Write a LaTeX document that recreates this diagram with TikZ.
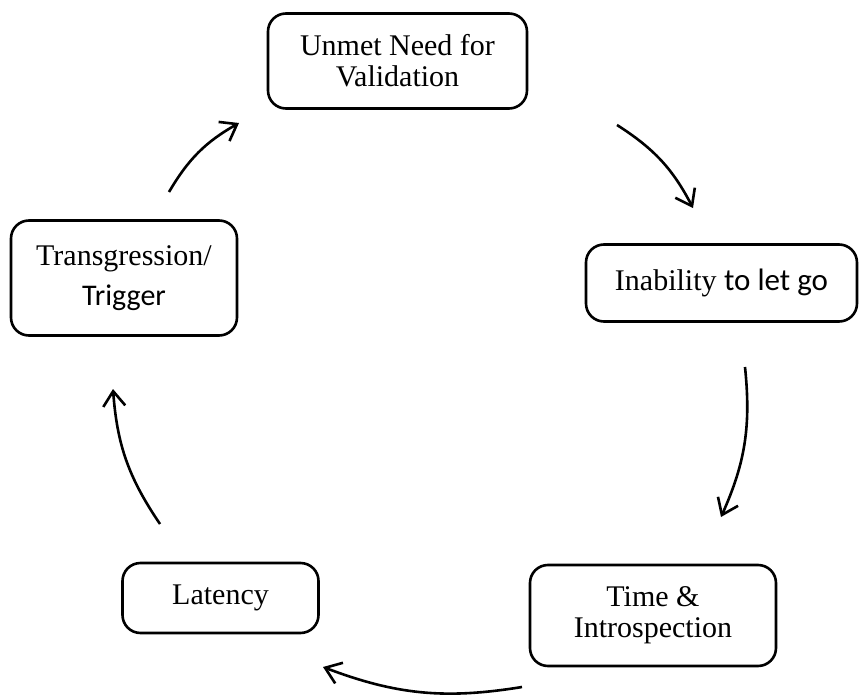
\documentclass[tikz,border=0pt]{standalone}
\usepackage{fontspec}
\setmainfont{Liberation Serif}
\newfontfamily\sansfont{Carlito}
\usetikzlibrary{arrows.meta}
\begin{document}
\begin{tikzpicture}[x=1pt,y=-1pt,
  stagebox/.style={draw, line width=2.6pt, rounded corners=18pt, align=center,
    font=\fontsize{30}{31}\selectfont, inner sep=0pt},
  cyclearrow/.style={line width=2.6pt, -{Straight Barb[length=15pt,width=22pt]}, bend left=15}]
\useasboundingbox (0,0) rectangle (860,696);

% the five stages of the cycle
\node[stagebox, minimum width=259pt, minimum height=95pt] (unmet) at (397.5,61)
  {Unmet Need for\\Validation};
\node[stagebox, minimum width=271pt, minimum height=77pt] (inability) at (721.5,283)
  {Inability {\sansfont\fontsize{31}{31}\selectfont to let go}};
\node[stagebox, minimum width=246pt, minimum height=101pt] (time) at (653,615.5)
  {Time \&\\Introspection};
\node[stagebox, minimum width=196pt, minimum height=70pt] (latency) at (220.5,598)
  {Latency};
\node[stagebox, minimum width=226pt, minimum height=115pt] (trans) at (124,278)
  {Transgression/\\[9pt]{\sansfont Trigger}};

% arrow ends between the stages
\coordinate (a1s) at (617,125);  \coordinate (a1e) at (693,208);
\coordinate (a2s) at (745,367);  \coordinate (a2e) at (721,517);
\coordinate (a3s) at (522,687);  \coordinate (a3e) at (323,667);
\coordinate (a4s) at (160,524);  \coordinate (a4e) at (113,389);
\coordinate (a5s) at (169,192);  \coordinate (a5e) at (239,123);

\draw[cyclearrow] (a1s) to (a1e);
\draw[cyclearrow] (a2s) to (a2e);
\draw[cyclearrow] (a3s) to (a3e);
\draw[cyclearrow] (a4s) to (a4e);
\draw[cyclearrow] (a5s) to (a5e);
\end{tikzpicture}
\end{document}
